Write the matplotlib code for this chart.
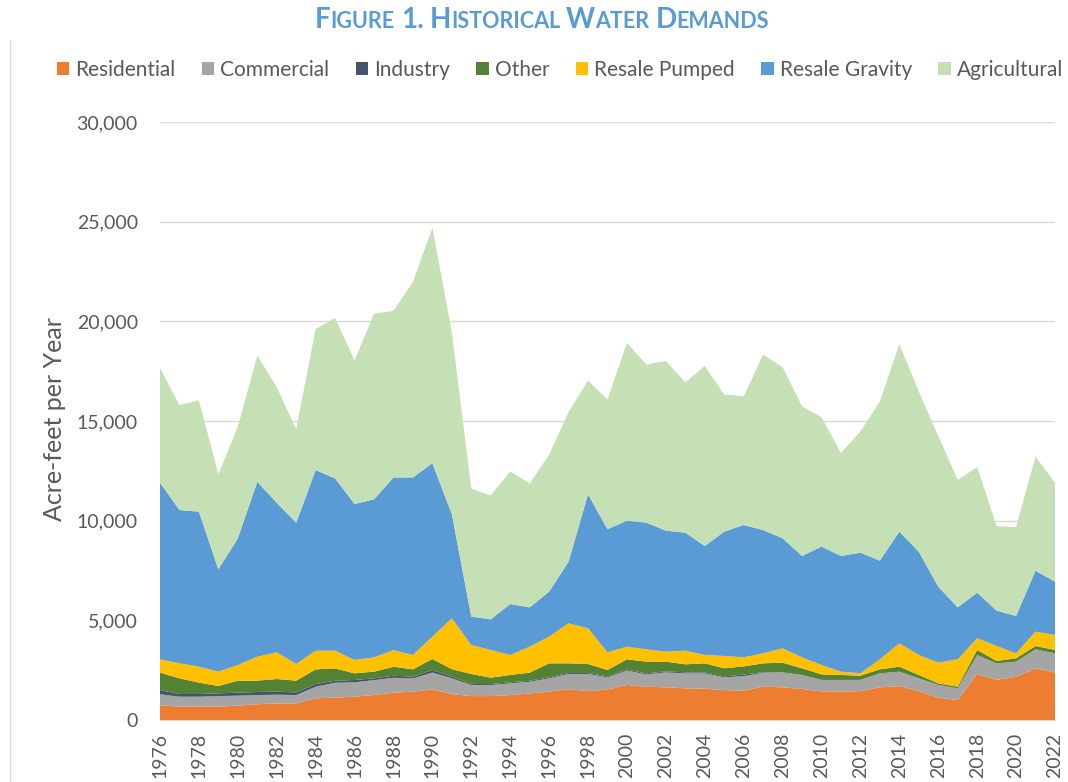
import matplotlib
matplotlib.use("Agg")
import matplotlib.pyplot as plt
from matplotlib.patches import Patch
from matplotlib.lines import Line2D

plt.rcParams['font.family'] = ['Lato', 'DejaVu Sans']

years = list(range(1976, 2023))

residential = [740, 670, 670, 670, 720, 790, 830, 830, 1090, 1120,
               1170, 1250, 1370, 1420, 1540, 1300, 1200, 1200, 1250, 1330,
               1420, 1550, 1450, 1530, 1760, 1670, 1640, 1590, 1570, 1500,
               1470, 1670, 1640, 1555, 1440, 1420, 1450, 1640, 1700, 1450,
               1120, 1000, 2310, 2010, 2170, 2590, 2380]
commercial = [550, 500, 500, 530, 500, 460, 440, 420, 580, 750,
              720, 750, 750, 670, 840, 790, 560, 550, 590, 590,
              670, 760, 860, 610, 720, 620, 750, 750, 770, 640,
              730, 705, 750, 705, 570, 590, 560, 700, 725, 640,
              640, 590, 950, 830, 760, 955, 965]
industry = [215, 134, 134, 138, 150, 155, 150, 138, 134, 100,
            117, 90, 100, 84, 130, 84, 50, 50, 50, 50,
            50, 50, 50, 50, 50, 50, 50, 50, 50, 50,
            80, 25, 0, 0, 0, 0, 0, 0, 0, 0,
            0, 0, 0, 0, 0, 0, 0]
other = [870, 786, 570, 368, 600, 568, 636, 585, 736, 619,
         334, 335, 452, 368, 551, 376, 498, 324, 368, 405,
         703, 483, 450, 319, 514, 587, 487, 403, 453, 402,
         410, 443, 486, 332, 281, 248, 214, 202, 251, 168,
         79, 82, 252, 120, 164, 167, 167]
resale_pumped = [669, 753, 803, 719, 787, 1205, 1338, 837, 936, 886,
                 669, 719, 836, 719, 1121, 2550, 1455, 1388, 1003, 1304,
                 1338, 2007, 1790, 886, 635, 618, 501, 685, 418, 619,
                 454, 502, 720, 552, 468, 167, 117, 502, 1170, 1003,
                 1037, 1372, 585, 752, 251, 720, 752]
resale_gravity = [8861, 7692, 7774, 5135, 6355, 8777, 7505, 7090, 9062, 8647,
                  7825, 7926, 8658, 8909, 8699, 5230, 1422, 1538, 2559, 1971,
                  2259, 3095, 6725, 6175, 6321, 6355, 6072, 5922, 5469, 6239,
                  6641, 6185, 5519, 5086, 5941, 5805, 6054, 4951, 5604, 5184,
                  3814, 2606, 2293, 1773, 1875, 3058, 2676]
agricultural = [5745, 5265, 5580, 4770, 5595, 6325, 5800, 4690, 7080, 8045,
                7205, 9310, 8360, 9810, 11810, 9120, 6415, 6210, 6650, 6210,
                6860, 7495, 5715, 6500, 8920, 7930, 8510, 7540, 9030, 6880,
                6455, 8800, 8585, 7505, 6490, 5160, 6085, 7990, 9410, 8035,
                7560, 6395, 6300, 4240, 4460, 5725, 4960]

labels = ['Residential', 'Commercial', 'Industry', 'Other',
          'Resale Pumped', 'Resale Gravity', 'Agricultural']
colors = ['#ED7D31', '#A5A5A5', '#44546A', '#548235',
          '#FFC000', '#5B9BD5', '#C5E0B4']

fig = plt.figure(figsize=(10.68, 7.82), dpi=100)
ax = fig.add_axes([160 / 1068, 1 - 720 / 782, 895 / 1068, 598 / 782])

ax.stackplot(years, residential, commercial, industry, other,
             resale_pumped, resale_gravity, agricultural,
             colors=colors, labels=labels, linewidth=0)

ax.set_xlim(1976, 2022)
ax.set_ylim(0, 30000)
ax.set_yticks(range(0, 30001, 5000))
ax.set_yticklabels(['{:,}'.format(v) for v in range(0, 30001, 5000)])
ax.set_xticks(range(1976, 2023, 2))
ax.set_xticklabels([str(y) for y in range(1976, 2023, 2)], rotation=90)
ax.tick_params(axis='y', length=0, pad=16, labelsize=14, labelcolor='#595959')
ax.tick_params(axis='x', length=0, pad=9, labelsize=14, labelcolor='#595959')

ax.yaxis.grid(True, color='#D9D9D9', linewidth=1)
ax.set_axisbelow(True)
for s in ['top', 'right', 'left']:
    ax.spines[s].set_visible(False)
ax.spines['bottom'].set_color('#D9D9D9')

fig.text(55 / 1068, 1 - 419 / 782, 'Acre-feet per Year', rotation=90,
         ha='center', va='center', fontsize=18, color='#595959')

handles = [Patch(facecolor=c, edgecolor='none') for c in colors]
fig.legend(handles, labels, loc='center', ncol=7, frameon=False,
           bbox_to_anchor=(560 / 1068, 1 - 70 / 782), fontsize=15,
           handlelength=0.6, handleheight=0.6, handletextpad=0.3,
           columnspacing=1.25, labelcolor='#595959')

# frame line on the left, as in the source image
fig.add_artist(Line2D([10 / 1068, 10 / 1068], [0, 1 - 40 / 782],
                      color='#D9D9D9', linewidth=1))

# title in small caps
segments = [('F', 1), ('IGURE', 0), (' ', 1), ('1.', 1), (' ', 1),
            ('H', 1), ('ISTORICAL', 0), (' ', 1), ('W', 1), ('ATER', 0),
            (' ', 1), ('D', 1), ('EMANDS', 0)]
big, small = 20, 15.5
renderer = fig.canvas.get_renderer()
W, H = fig.get_size_inches() * fig.dpi
texts = []
x = 0.0
for s, is_big in segments:
    size = big if is_big else small
    if s == ' ':
        x += size * 0.3
        continue
    t = fig.text(x / W, 1 - 28 / 782, s, fontsize=size, fontweight='bold',
                 color='#5B9BD5', ha='left', va='baseline')
    w = t.get_window_extent(renderer).width
    texts.append((t, x))
    x += w
shift = 542 - x / 2
for t, x0 in texts:
    t.set_x((x0 + shift) / W)

fig.savefig('out.png', dpi=100)
